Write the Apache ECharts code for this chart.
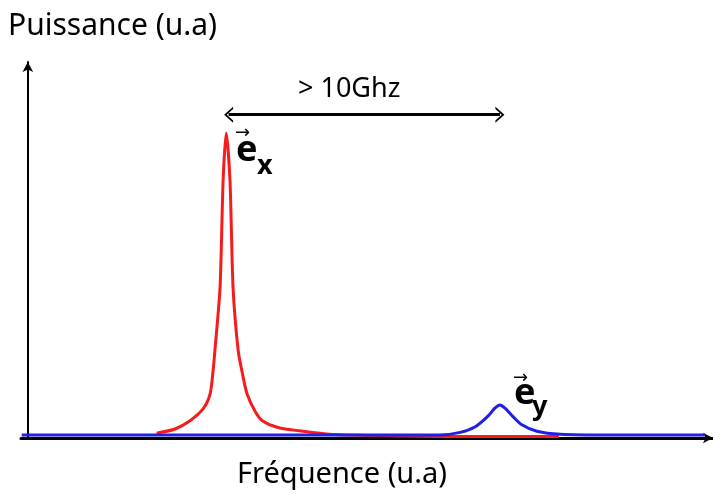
<!DOCTYPE html>
<html>
<head>
<meta charset="utf-8">
<script src="https://cdn.jsdelivr.net/npm/echarts@6/dist/echarts.min.js"></script>
<style>
  html, body { margin: 0; padding: 0; background: #fff; }
  #chart { width: 713px; height: 495px; }
</style>
</head>
<body>
<div id="chart"></div>
<script>
// frequence (u.a) / puissance (u.a)
const redX = [18.8, 21.5, 23.6, 25.6, 26.6, 27.0, 27.3, 28.05, 28.5, 28.95, 29.5, 29.95, 30.7, 31.3, 32.0, 33.2, 34.3, 36.5, 39.7, 44.8, 55.0, 65.0, 77.5]
const redY = [1.3, 2.4, 4.5, 7.8, 11.7, 17.3, 23.2, 40.0, 68.5, 81.1, 68.5, 40.0, 23.2, 17.3, 11.7, 7.0, 4.5, 2.8, 1.9, 0.9, 0.5, 0.4, 0.4]
const blueX = [-0.9, 20.0, 40.0, 60.1, 63.1, 65.3, 67.2, 68.2, 68.9, 69.6, 70.7, 72.1, 74.3, 77.7, 85.0, 98.8]
const blueY = [0.8, 0.8, 0.8, 0.8, 1.5, 3.0, 5.9, 8.0, 8.8, 8.0, 5.9, 3.5, 1.8, 1.0, 0.8, 0.8]
const gapFrom = [29.3, 86]
const gapTo = [68.9, 86]

const chart = echarts.init(document.getElementById('chart'))
const font = '"Noto Sans", "DejaVu Sans", sans-serif'
const chevron = 'path://M0,10 L5,0 L10,10 L8.6,10 L5,3 L1.4,10 Z'

chart.setOption({
  animation: false,
  grid: { left: 21, right: 0, top: 62, bottom: 57 },
  xAxis: {
    type: 'value',
    min: -1,
    max: 100,
    axisLabel: { show: false },
    axisTick: { show: false },
    splitLine: { show: false },
    axisLine: {
      show: true,
      onZero: true,
      symbol: ['none', 'arrow'],
      symbolSize: [8, 10],
      lineStyle: { color: '#000', width: 3 }
    }
  },
  yAxis: {
    type: 'value',
    min: 0,
    max: 100,
    axisLabel: { show: false },
    axisTick: { show: false },
    splitLine: { show: false },
    axisLine: {
      show: true,
      onZero: true,
      symbol: ['none', 'arrow'],
      symbolSize: [8, 10],
      lineStyle: { color: '#000', width: 2 }
    }
  },
  series: [{
    name: 'ex',
    type: 'line',
    smooth: 0.25,
    showSymbol: false,
    lineStyle: { color: '#f41c1c', width: 3 },
    data: redX.map((x, i) => [x, redY[i]]),
    markLine: {
      silent: true,
      symbol: [chevron, chevron],
      symbolSize: [16, 9],
      lineStyle: { color: '#000', width: 3, type: 'solid' },
      label: { show: false },
      data: [[{ coord: gapFrom }, { coord: gapTo }]]
    }
  }, {
    name: 'ey',
    type: 'line',
    smooth: 0.3,
    showSymbol: false,
    lineStyle: { color: '#1f1fe6', width: 3 },
    data: blueX.map((x, i) => [x, blueY[i]])
  }],
  graphic: [
    { type: 'text', left: 8, top: 11, style: { text: 'Puissance (u.a)', font: '30px ' + font, fill: '#000' } },
    { type: 'text', left: 237, top: 460, style: { text: 'Fréquence (u.a)', font: '29px ' + font, fill: '#000' } },
    { type: 'text', left: 298, top: 76, style: { text: '> 10Ghz', font: '27px ' + font, fill: '#000' } },
    // e_x
    { type: 'text', left: 235, top: 124, style: { text: '→', font: '18px ' + font, fill: '#000' } },
    { type: 'text', left: 236, top: 133, style: { text: 'e', font: 'bold 36px ' + font, fill: '#000' } },
    { type: 'text', left: 257, top: 153, style: { text: 'x', font: 'bold 27px ' + font, fill: '#000' } },
    // e_y
    { type: 'text', left: 513, top: 369, style: { text: '→', font: '18px ' + font, fill: '#000' } },
    { type: 'text', left: 514, top: 376, style: { text: 'e', font: 'bold 36px ' + font, fill: '#000' } },
    { type: 'text', left: 532, top: 394, style: { text: 'y', font: 'bold 27px ' + font, fill: '#000' } }
  ]
})
</script>
</body>
</html>
